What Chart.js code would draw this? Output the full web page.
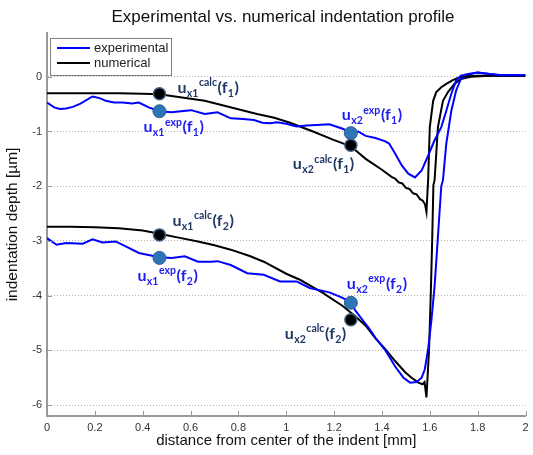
<!DOCTYPE html>
<html>
<head>
<meta charset="utf-8">
<script src="https://cdn.jsdelivr.net/npm/chart.js@4/dist/chart.umd.min.js"></script>
<style>
  html, body { margin: 0; padding: 0; background: #fff; }
</style>
</head>
<body>
<canvas id="chart" width="533" height="455"></canvas>
<script>
// values
const titleText = "Experimental vs. numerical indentation profile";
const xTitle = "distance from center of the indent [mm]";
const yTitle = "indentation depth [\u00b5m]";
const xTicks = [0, 0.2, 0.4, 0.6, 0.8, 1, 1.2, 1.4, 1.6, 1.8, 2];
const yTicks = [-6, -5, -4, -3, -2, -1, 0];
const seriesNames = ["experimental", "numerical"];

// experimental, load f1
const expF1X = [0, 0.03, 0.054, 0.08, 0.108, 0.14, 0.19, 0.22, 0.246, 0.28, 0.315, 0.356, 0.384, 0.425, 0.47, 0.521, 0.56, 0.603, 0.659, 0.713, 0.768, 0.82, 0.865, 0.90, 0.933, 0.961, 1.0, 1.043, 1.085, 1.126, 1.18, 1.236, 1.27, 1.30, 1.332, 1.373, 1.414, 1.43, 1.456, 1.483, 1.51, 1.538, 1.566, 1.593, 1.62, 1.648, 1.669, 1.69, 1.71, 1.73, 1.76, 1.8, 1.85, 1.9, 2.0];
const expF1Y = [-0.47, -0.56, -0.59, -0.58, -0.55, -0.49, -0.36, -0.39, -0.44, -0.47, -0.47, -0.49, -0.47, -0.56, -0.63, -0.65, -0.63, -0.61, -0.68, -0.65, -0.76, -0.77, -0.79, -0.84, -0.85, -0.83, -0.86, -0.91, -0.89, -0.88, -0.87, -0.95, -1.02, -1.0, -1.08, -1.12, -1.18, -1.22, -1.41, -1.62, -1.77, -1.84, -1.71, -1.44, -1.16, -0.92, -0.62, -0.31, -0.07, 0.02, 0.05, 0.08, 0.05, 0.03, 0.03];

// numerical, load f1
const numF1X = [0, 0.1, 0.2, 0.3, 0.4, 0.47, 0.55, 0.659, 0.75, 0.878, 0.95, 1.016, 1.112, 1.195, 1.27, 1.332, 1.40, 1.44, 1.455, 1.47, 1.485, 1.50, 1.515, 1.53, 1.545, 1.56, 1.57, 1.58, 1.586, 1.593, 1.60, 1.614, 1.627, 1.648, 1.669, 1.696, 1.73, 1.8, 1.9, 2.0];
const numF1Y = [-0.30, -0.30, -0.30, -0.30, -0.31, -0.32, -0.37, -0.44, -0.54, -0.68, -0.75, -0.84, -1.0, -1.15, -1.27, -1.50, -1.70, -1.83, -1.86, -1.93, -1.95, -2.03, -2.05, -2.13, -2.15, -2.24, -2.26, -2.33, -2.47, -1.89, -0.92, -0.44, -0.28, -0.19, -0.13, -0.06, 0.0, 0.02, 0.02, 0.02];

// experimental, load f2
const expF2X = [0, 0.04, 0.08, 0.15, 0.19, 0.232, 0.287, 0.329, 0.384, 0.47, 0.521, 0.576, 0.631, 0.686, 0.713, 0.768, 0.837, 0.906, 0.974, 1.043, 1.098, 1.18, 1.236, 1.27, 1.29, 1.32, 1.346, 1.373, 1.414, 1.456, 1.49, 1.518, 1.545, 1.566, 1.579, 1.593, 1.607, 1.62, 1.634, 1.648, 1.655, 1.669, 1.69, 1.71, 1.73, 1.772, 1.8, 1.85, 1.9, 2.0];
const expF2Y = [-2.95, -3.07, -3.04, -3.05, -2.97, -3.03, -3.01, -3.10, -3.22, -3.30, -3.31, -3.28, -3.38, -3.38, -3.37, -3.44, -3.59, -3.62, -3.74, -3.74, -3.86, -3.94, -4.04, -4.13, -4.28, -4.45, -4.6, -4.77, -5.0, -5.3, -5.5, -5.59, -5.58, -5.5, -5.35, -4.98, -4.44, -3.83, -2.92, -2.0, -1.89, -1.22, -0.62, -0.25, -0.04, 0.05, 0.08, 0.05, 0.03, 0.03];

// numerical, load f2
const numF2X = [0, 0.1, 0.2, 0.3, 0.4, 0.47, 0.55, 0.631, 0.7, 0.768, 0.85, 0.906, 1.0, 1.057, 1.153, 1.236, 1.29, 1.332, 1.373, 1.414, 1.456, 1.497, 1.524, 1.552, 1.57, 1.578, 1.586, 1.597, 1.604, 1.61, 1.615, 1.62, 1.634, 1.655, 1.676, 1.703, 1.73, 1.772, 1.85, 2.0];
const numF2Y = [-2.74, -2.74, -2.75, -2.77, -2.81, -2.87, -2.94, -3.01, -3.08, -3.16, -3.28, -3.38, -3.6, -3.71, -3.95, -4.19, -4.38, -4.55, -4.78, -4.98, -5.2, -5.4, -5.5, -5.59, -5.62, -5.58, -5.86, -4.98, -3.98, -2.98, -1.98, -1.89, -0.92, -0.44, -0.28, -0.13, -0.04, 0.0, 0.02, 0.02];

// marked points
const calcX = [0.47, 1.27, 0.47, 1.27];
const calcY = [-0.31, -1.25, -2.89, -4.44];
const expX = [0.47, 1.27, 0.47, 1.27];
const expY = [-0.63, -1.03, -3.31, -4.13];
const markSub = ["x1", "x2", "x1", "x2"];
const markLoad = ["1", "1", "2", "2"];

const FONT = "'Liberation Sans', Arial, sans-serif";
const BLUE = "#0000ff";
const BLACK = "#000000";

function pts(xs, ys) {
  return xs.map((x, i) => ({ x: x, y: ys[i] }));
}

function lineSet(label, xs, ys, color) {
  return {
    label: label,
    data: pts(xs, ys),
    showLine: true,
    borderColor: color,
    borderWidth: 2,
    pointRadius: 0,
    tension: 0,
    fill: false
  };
}

// label offsets from the dot, in pixels
const calcOffsets = [[18, -1], [-58, 24], [13, -9], [-66, 19]];
const expOffsets = [[-16, 21], [-9, -13], [-22, 23], [-4, -14]];

function drawRich(ctx, x, y, parts, color) {
  let cx = x;
  ctx.fillStyle = color;
  ctx.textBaseline = "alphabetic";
  ctx.textAlign = "left";
  parts.forEach(p => {
    const small = p.k !== "n";
    ctx.font = "bold " + (small ? 10.5 : 16) + "px Lato, 'Open Sans', sans-serif";
    const dy = p.k === "sub" ? 4 : (p.k === "sup" ? -6.5 : 0);
    ctx.fillText(p.t, cx, y + dy);
    cx += ctx.measureText(p.t).width + (small ? 0.6 : 0.3);
  });
}

const markLabels = {
  id: "markLabels",
  afterDatasetsDraw(chart) {
    const ctx = chart.ctx;
    const xs = chart.scales.x, ys = chart.scales.y;
    ctx.save();
    for (let i = 0; i < calcX.length; i++) {
      const cx = xs.getPixelForValue(calcX[i]), cy = ys.getPixelForValue(calcY[i]);
      drawRich(ctx, cx + calcOffsets[i][0], cy + calcOffsets[i][1], [
        { t: "u", k: "n" }, { t: markSub[i], k: "sub" }, { t: "calc", k: "sup" },
        { t: "(f", k: "n" }, { t: markLoad[i], k: "sub" }, { t: ")", k: "n" }
      ], "#1f3864");
      const ex = xs.getPixelForValue(expX[i]), ey = ys.getPixelForValue(expY[i]);
      drawRich(ctx, ex + expOffsets[i][0], ey + expOffsets[i][1], [
        { t: "u", k: "n" }, { t: markSub[i], k: "sub" }, { t: "exp", k: "sup" },
        { t: "(f", k: "n" }, { t: markLoad[i], k: "sub" }, { t: ")", k: "n" }
      ], "#1c1cf0");
    }
    ctx.restore();
  }
};

const innerTicks = {
  id: "innerTicks",
  afterDraw(chart) {
    const ctx = chart.ctx;
    const a = chart.chartArea;
    ctx.save();
    ctx.strokeStyle = "#9a9a9a";
    ctx.lineWidth = 1;
    ctx.beginPath();
    xTicks.forEach(v => {
      const px = Math.round(chart.scales.x.getPixelForValue(v)) + 0.5;
      ctx.moveTo(px, a.bottom);
      ctx.lineTo(px, a.bottom - 5);
    });
    yTicks.forEach(v => {
      const py = Math.round(chart.scales.y.getPixelForValue(v)) + 0.5;
      ctx.moveTo(a.left, py);
      ctx.lineTo(a.left + 5, py);
    });
    ctx.stroke();
    ctx.restore();
  }
};

const boxLegend = {
  id: "boxLegend",
  afterDraw(chart) {
    const ctx = chart.ctx;
    const a = chart.chartArea;
    const bx = a.left + 3, by = a.top + 5, bw = 121, bh = 37;
    ctx.save();
    ctx.fillStyle = "#ffffff";
    ctx.fillRect(bx, by, bw, bh);
    ctx.strokeStyle = "#7f7f7f";
    ctx.lineWidth = 1;
    ctx.strokeRect(bx + 0.5, by + 0.5, bw, bh);
    const colors = [BLUE, BLACK];
    ctx.font = "13px " + FONT;
    ctx.textBaseline = "middle";
    ctx.textAlign = "left";
    seriesNames.forEach((name, i) => {
      const ly = by + 10 + i * 15;
      ctx.strokeStyle = colors[i];
      ctx.lineWidth = 2;
      ctx.beginPath();
      ctx.moveTo(bx + 7, ly);
      ctx.lineTo(bx + 40, ly);
      ctx.stroke();
      ctx.fillStyle = "#222";
      ctx.fillText(name, bx + 44, ly);
    });
    ctx.restore();
  }
};

const topTitle = {
  id: "topTitle",
  afterDraw(chart) {
    const ctx = chart.ctx;
    ctx.save();
    ctx.font = "17px " + FONT;
    ctx.fillStyle = "#111";
    ctx.textAlign = "center";
    ctx.textBaseline = "middle";
    ctx.fillText(titleText, 283, 17);
    ctx.restore();
  }
};

new Chart(document.getElementById("chart").getContext("2d"), {
  type: "scatter",
  data: {
    datasets: [
      {
        label: "calc",
        data: pts(calcX, calcY),
        pointRadius: 6,
        pointBackgroundColor: "#000000",
        pointBorderColor: "#3e5f85",
        pointBorderWidth: 1.5,
        showLine: false
      },
      {
        label: "exp",
        data: pts(expX, expY),
        pointRadius: 6.5,
        pointBackgroundColor: "#2e75b6",
        pointBorderColor: "#2a5f92",
        pointBorderWidth: 1,
        showLine: false
      },
      lineSet(seriesNames[0], expF1X, expF1Y, BLUE),
      lineSet(seriesNames[1], numF1X, numF1Y, BLACK),
      lineSet(seriesNames[0], expF2X, expF2Y, BLUE),
      lineSet(seriesNames[1], numF2X, numF2Y, BLACK)
    ]
  },
  options: {
    responsive: false,
    animation: false,
    layout: { padding: { left: 0, right: 1, top: 33, bottom: 0 } },
    plugins: {
      legend: { display: false },
      tooltip: { enabled: false },
      title: { display: false }
    },
    scales: {
      x: {
        type: "linear",
        min: 0,
        max: 2,
        afterBuildTicks: s => { s.ticks = xTicks.map(v => ({ value: v })); },
        afterFit: s => { s.height = 39; s.paddingLeft = 0; s.paddingRight = 0; },
        grid: { display: false, drawTicks: false },
        border: { display: true, color: "#9a9a9a", width: 2 },
        ticks: {
          padding: 5,
          maxRotation: 0,
          color: "#333",
          font: { family: FONT, size: 11 },
          callback: v => String(v)
        },
        title: {
          display: true,
          text: xTitle,
          color: "#111",
          font: { family: FONT, size: 15 },
          padding: { top: 0, bottom: 5 }
        }
      },
      y: {
        min: -6.2,
        max: 0.8,
        afterBuildTicks: s => { s.ticks = yTicks.map(v => ({ value: v })); },
        afterFit: s => { s.width = 47; s.paddingTop = 0; s.paddingBottom = 0; },
        grid: { color: "#b0b0b0", lineWidth: 1, drawTicks: false },
        border: { display: true, color: "#9a9a9a", width: 2, dash: [1, 2] },
        ticks: {
          padding: 5,
          color: "#333",
          font: { family: FONT, size: 11 },
          callback: v => String(v)
        },
        title: {
          display: true,
          text: yTitle,
          color: "#111",
          font: { family: FONT, size: 15.5 },
          padding: { top: 3, bottom: 0 }
        }
      }
    }
  },
  plugins: [innerTicks, markLabels, boxLegend, topTitle]
});
</script>
</body>
</html>
